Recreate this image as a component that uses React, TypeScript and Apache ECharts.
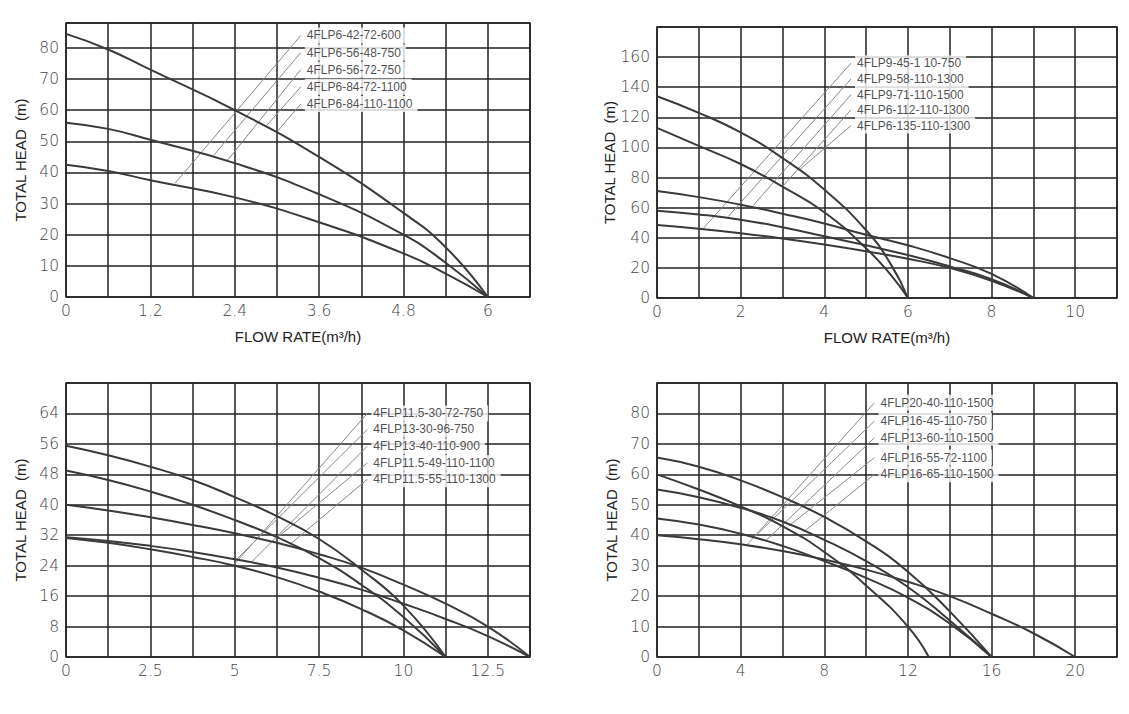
import * as echarts from "echarts"
import { useEffect, useRef } from "react"

// panel 1: 4FLP6 series
const p1Models = ["4FLP6-42-72-600", "4FLP6-56-48-750", "4FLP6-56-72-750", "4FLP6-84-72-1100", "4FLP6-84-110-1100"]
const p1Curves: number[][][] = [
    [[0, 84.5], [0.6, 79.5], [1.2, 73], [2.4, 60], [3.6, 45], [4.8, 27], [5.4, 16], [6, 0]],
    [[0, 56], [0.6, 54], [1.2, 50.5], [2.4, 43], [3.6, 33], [4.8, 20], [5.4, 11], [6, 0]],
    [[0, 42.5], [0.6, 40.5], [1.2, 37.5], [2.4, 32], [3.6, 24], [4.8, 14], [5.4, 7.5], [6, 0]],
]
const p1Leaders: number[][][] = [
    [[1.55, 36.5], [3.34, 84]],
    [[2.1, 45.5], [3.34, 78.5]],
    [[2.3, 44], [3.34, 73]],
    [[2.85, 55], [3.34, 67.5]],
    [[3.0, 53], [3.34, 62]],
]

// panel 2: 4FLP9 / 4FLP6 high head
const p2Models = ["4FLP9-45-1 10-750", "4FLP9-58-110-1300", "4FLP9-71-110-1500", "4FLP6-112-110-1300", "4FLP6-135-110-1300"]
const p2Curves: number[][][] = [
    [[0, 134], [1, 123], [2, 110], [3, 93], [4, 72], [5, 45], [5.6, 22], [6, 0]],
    [[0, 113], [1, 101], [2, 89], [3, 74], [4, 57], [5, 33], [5.6, 15], [6, 0]],
    [[0, 71], [1, 67], [2, 62], [3, 56], [4, 49.5], [5, 42], [6, 35], [7, 26.5], [8, 16], [9, 0]],
    [[0, 58], [1, 55.5], [2, 52], [3, 47], [4, 41], [5, 35], [6, 28.5], [7, 21], [8, 12.5], [9, 0]],
    [[0, 48.5], [1, 46], [2, 43], [3, 39.5], [4, 35.5], [5, 31], [6, 26], [7, 20], [8, 11.5], [9, 0]],
]
const p2Leaders: number[][][] = [
    [[1.1, 46], [4.64, 156]],
    [[1.7, 54], [4.64, 145.5]],
    [[2.3, 61.5], [4.64, 135]],
    [[3.0, 74], [4.64, 125]],
    [[3.4, 85], [4.64, 114.5]],
]

// panel 3: 4FLP11.5 / 4FLP13
const p3Models = ["4FLP11.5-30-72-750", "4FLP13-30-96-750", "4FLP13-40-110-900", "4FLP11.5-49-110-1100", "4FLP11.5-55-110-1300"]
const p3Curves: number[][][] = [
    [[0, 55.5], [1.25, 53], [2.5, 50], [3.75, 46.5], [5, 42], [6.25, 37], [7.5, 31], [8.75, 23], [10, 13.5], [11.25, 0]],
    [[0, 49], [1.25, 46.5], [2.5, 43.5], [3.75, 40], [5, 36], [6.25, 31.5], [7.5, 26], [8.75, 19], [10, 10.5], [11.25, 0]],
    [[0, 40], [1.25, 38.5], [2.5, 36.7], [3.75, 34.7], [5, 32.5], [6.25, 30], [7.5, 27], [8.75, 23.5], [10, 19], [11.25, 14], [12.5, 8], [13.75, 0]],
    [[0, 31.5], [1.25, 30.5], [2.5, 29.2], [3.75, 27.6], [5, 25.7], [6.25, 23.5], [7.5, 20.8], [8.75, 17.7], [10, 14], [11.25, 10], [12.5, 5.5], [13.75, 0]],
    [[0, 31.3], [1.25, 30], [2.5, 28.3], [3.75, 26.3], [5, 24], [6.25, 21], [7.5, 17.2], [8.75, 12.6], [10, 7], [11.25, 0]],
]
const p3Leaders: number[][][] = [
    [[4.95, 24], [8.93, 64]],
    [[5.05, 25.6], [8.93, 59.8]],
    [[5.5, 25], [8.93, 55.4]],
    [[6.25, 31.3], [8.93, 51]],
    [[6.65, 29.7], [8.93, 46.7]],
]

// panel 4: 4FLP16 / 4FLP20
const p4Models = ["4FLP20-40-110-1500", "4FLP16-45-110-750", "4FLP13-60-110-1500", "4FLP16-55-72-1100", "4FLP16-65-110-1500"]
const p4Curves: number[][][] = [
    [[0, 65.5], [2, 62.5], [4, 58], [6, 52.5], [8, 46], [10, 38], [12, 28], [14, 15], [16, 0]],
    [[0, 60], [2, 55], [4, 49.5], [6, 43], [8, 34.5], [10, 23.5], [12, 10], [13, 0]],
    [[0, 55], [2, 52.5], [4, 49], [6, 44.5], [8, 38.5], [10, 31.5], [12, 23], [14, 12], [16, 0]],
    [[0, 45.5], [2, 43.5], [4, 40.5], [6, 36.5], [8, 31.5], [10, 26], [12, 19.5], [14, 11], [16, 0]],
    [[0, 40], [2, 38.7], [4, 37], [6, 34.8], [8, 32], [10, 28.7], [12, 24.7], [14, 20], [16, 14.2], [18, 7.8], [20, 0]],
]
const p4Leaders: number[][][] = [
    [[4.3, 36.8], [10.4, 83.5]],
    [[4.7, 39.7], [10.4, 77.5]],
    [[5.2, 38.2], [10.4, 72]],
    [[6.3, 43], [10.4, 65.5]],
    [[7.0, 41], [10.4, 60]],
]

const panels = [
    { models: p1Models, curves: p1Curves, leaders: p1Leaders, xMax: 6.6, xStep: 0.6, xLabelStep: 1.2, yMax: 88, yStep: 10, yLabelMax: 80, box: [66, 23, 464, 274], xName: true, narrow: true },
    { models: p2Models, curves: p2Curves, leaders: p2Leaders, xMax: 11, xStep: 1, xLabelStep: 2, yMax: 180, yStep: 20, yLabelMax: 160, box: [657, 27, 460, 271], xName: true, narrow: false },
    { models: p3Models, curves: p3Curves, leaders: p3Leaders, xMax: 13.75, xStep: 1.25, xLabelStep: 2.5, yMax: 72, yStep: 8, yLabelMax: 64, box: [66, 383, 464, 274], xName: false, narrow: false },
    { models: p4Models, curves: p4Curves, leaders: p4Leaders, xMax: 22, xStep: 2, xLabelStep: 4, yMax: 90, yStep: 10, yLabelMax: 80, box: [657, 383, 460, 274], xName: false, narrow: false },
]

const isMultiple = (v: number, s: number) => Math.abs(v / s - Math.round(v / s)) < 1e-6

export default function App() {
    const ref = useRef<HTMLDivElement>(null)

    useEffect(() => {
        const chart = echarts.init(ref.current!, null, { renderer: "svg" })
        const grid: any[] = []
        const xAxis: any[] = []
        const yAxis: any[] = []
        const series: any[] = []
        const tickFont = { color: "#444", fontSize: 15.5, fontFamily: "DejaVu Sans, sans-serif", fontWeight: 200 }

        panels.forEach((p, i) => {
            const [left, top, width, height] = p.box
            grid.push({ left, top, width, height, show: true, borderColor: "#222", borderWidth: 1.5, backgroundColor: "#fff" })
            xAxis.push({
                type: "value", gridIndex: i, min: 0, max: p.xMax, interval: p.xStep,
                name: p.xName ? "FLOW RATE(m³/h)" : "", nameLocation: "middle", nameGap: 32,
                nameTextStyle: { color: "#222", fontSize: 15, fontFamily: "Liberation Sans Narrow, Liberation Sans, sans-serif" },
                axisLine: { show: false }, axisTick: { show: false },
                splitLine: { show: true, lineStyle: { color: "#222", width: 1.5 } },
                axisLabel: {
                    ...tickFont, margin: 6, showMaxLabel: true,
                    formatter: (v: number) => isMultiple(v, p.xLabelStep) ? String(+v.toFixed(2)) : "",
                },
            })
            yAxis.push({
                type: "value", gridIndex: i, min: 0, max: p.yMax, interval: p.yStep,
                name: "TOTAL HEAD  (m)", nameLocation: "middle", nameGap: 38,
                nameTextStyle: { color: "#222", fontSize: 15, fontFamily: "Liberation Sans, Arial, sans-serif" },
                axisLine: { show: false }, axisTick: { show: false },
                splitLine: { show: true, lineStyle: { color: "#222", width: 1.5 } },
                axisLabel: { ...tickFont, margin: 7, formatter: (v: number) => v <= p.yLabelMax ? String(v) : "" },
            })
            p.leaders.forEach((seg) => {
                series.push({
                    type: "line", xAxisIndex: i, yAxisIndex: i, data: seg, showSymbol: false, silent: true,
                    lineStyle: { color: "#888", width: 1 }, z: 3,
                })
            })
            p.curves.forEach((c) => {
                series.push({
                    type: "line", xAxisIndex: i, yAxisIndex: i, data: c, smooth: true, showSymbol: false,
                    lineStyle: { color: "#3a3a3a", width: 2 }, z: 4,
                })
            })
            series.push({
                type: "scatter", xAxisIndex: i, yAxisIndex: i, symbolSize: 0, z: 5,
                data: p.leaders.map((seg, k) => ({ value: seg[1], name: p.models[k] })),
                label: {
                    show: true, position: "right", distance: 4, formatter: "{b}",
                    color: "#222", fontSize: 12,
                    fontFamily: p.narrow ? "Liberation Sans Narrow, Liberation Sans, sans-serif" : "Liberation Sans, Arial, sans-serif",
                    backgroundColor: "#fff", padding: [2, 5, 2, 2],
                },
            })
        })

        chart.setOption({ animation: false, backgroundColor: "#fff", grid, xAxis, yAxis, series })
        return () => chart.dispose()
    }, [])

    return <div ref={ref} style={{ position: "fixed", left: 0, top: 0, width: 1129, height: 714, background: "#fff" }} />
}
